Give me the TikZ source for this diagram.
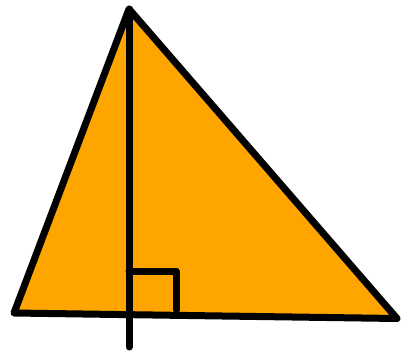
\documentclass[tikz,border=0pt]{standalone}
\begin{document}
\begin{tikzpicture}[x=1pt,y=-1pt]

\definecolor{cFill}{RGB}{255,165,0}

\tikzset{
  edge/.style   = {line width=7pt, line join=round, line cap=round, black},
  marker/.style = {line width=7pt, line join=round, line cap=round, black},
}

\useasboundingbox (0,0) rectangle (403,354);

%% ---------- the triangle ----------
\coordinate (apex)  at (129,9);
\coordinate (left)  at (14,313);
\coordinate (right) at (397,318.5);

\fill[cFill] (apex) -- (left) -- (right) -- cycle;
\draw[edge] (apex) -- (left) -- (right) -- cycle;

%% ---------- the height ----------
\coordinate (foot) at (129,347);
\draw[edge] (apex) -- (foot);

%% ---------- the right angle ----------
\draw[marker] (129,271) -- (176,271) -- (176,310);

\end{tikzpicture}
\end{document}
